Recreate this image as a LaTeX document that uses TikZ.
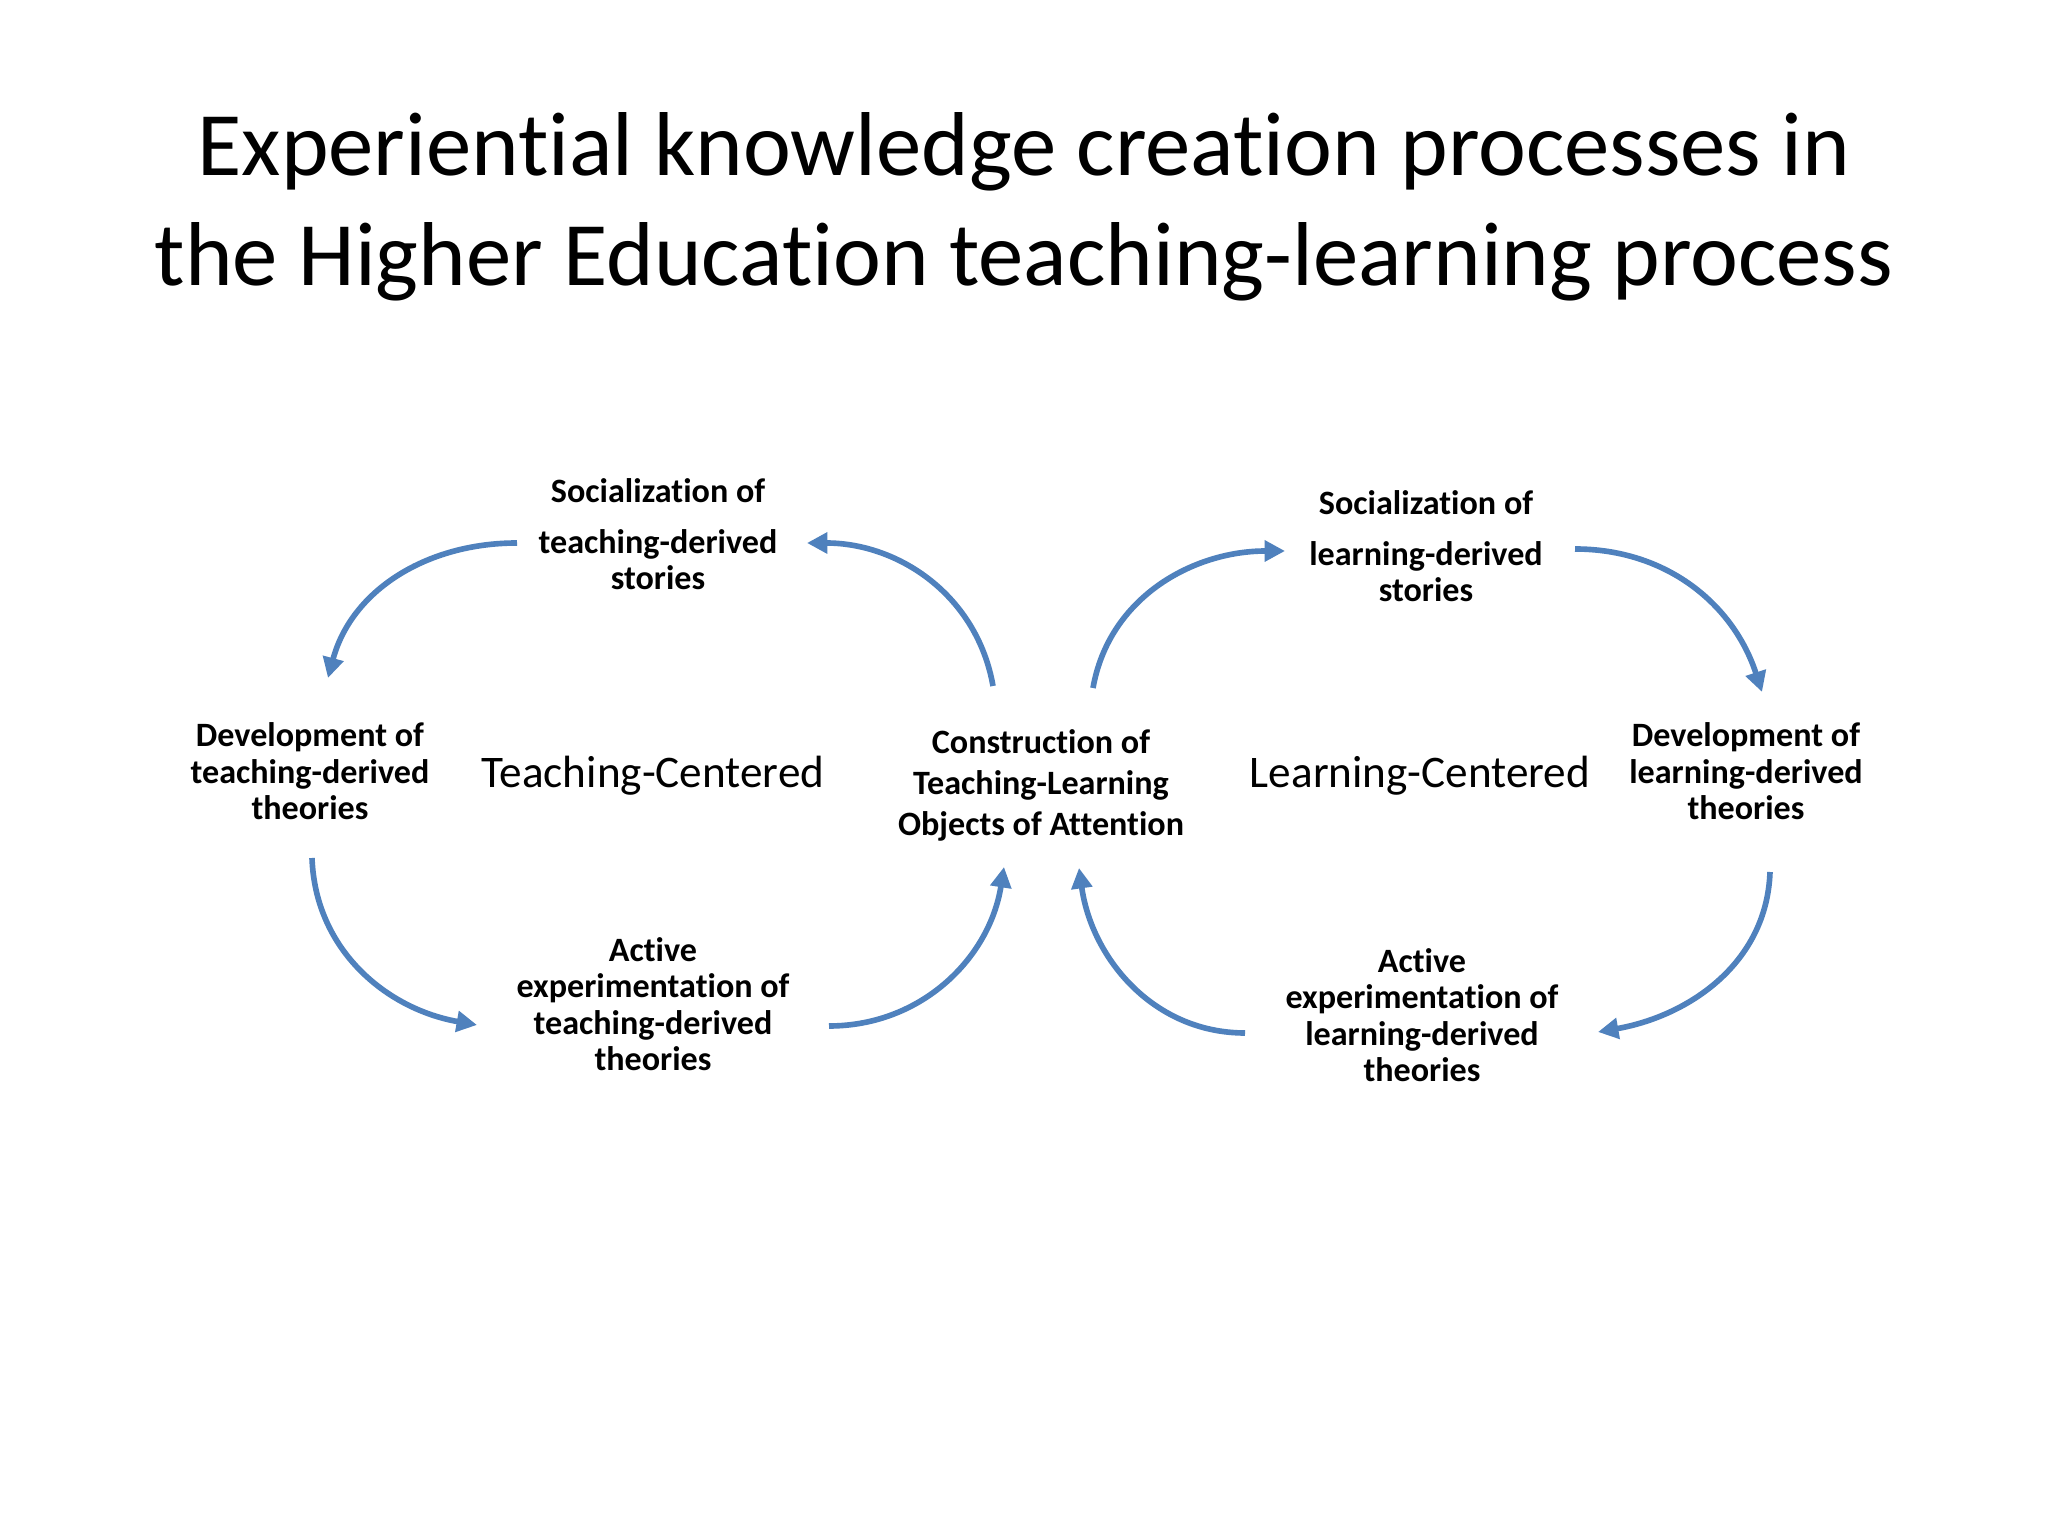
\documentclass[tikz,border=0pt]{standalone}
\usepackage{fontspec}
\setmainfont{Carlito}[Ligatures=NoCommon]
\usepackage{tikz}
\usetikzlibrary{arrows.meta}
\definecolor{cycleblue}{RGB}{79,129,189}

\begin{document}
\begin{tikzpicture}[x=0.01cm, y=0.01cm,
  lbl/.style={anchor=base, align=center, inner sep=0pt,
    font=\fontsize{9.7}{10.4}\selectfont\bfseries},
  big/.style={anchor=base, inner sep=0pt, font=\fontsize{12.85}{15}\selectfont},
  arr/.style={-{Triangle[length=5.8pt, width=5.8pt]}, cycleblue, line width=1.6pt}]
\fill[white] (0,0) rectangle (2048,1536);
\useasboundingbox (0,0) rectangle (2048,1536);
% title (base = last line)
\node[anchor=base, align=center, inner sep=0pt, font=\fontsize{25.8}{31.3}\selectfont]
  (title) at (1024,1250) {Experiential knowledge creation processes in\\the Higher Education teaching-learning process};
% teaching side
\node[lbl] (socT) at (658,946) {Socialization of\\[4.1pt]teaching-derived\\stories};
\node[lbl] (devT) at (310,716) {Development of\\teaching-derived\\theories};
\node[big] (ctrT) at (653,748) {Teaching-Centered};
\node[lbl] (actT) at (653,465) {Active\\experimentation of\\teaching-derived\\theories};
% middle
\node[lbl, font=\fontsize{9.7}{11.8}\selectfont\bfseries] (con) at (1041,700)
  {Construction of\\Teaching-Learning\\Objects of Attention};
% learning side
\node[lbl] (socL) at (1426,934) {Socialization of\\[4.1pt]learning-derived\\stories};
\node[lbl] (devL) at (1746,716) {Development of\\learning-derived\\theories};
\node[big] (ctrL) at (1420,748) {Learning-Centered};
\node[lbl] (actL) at (1422,454) {Active\\experimentation of\\learning-derived\\theories};
% arrow ends
\coordinate (a1s) at (517,993);  \coordinate (a1e) at (328,858);
\coordinate (a2s) at (312,678);  \coordinate (a2e) at (477,511);
\coordinate (a3s) at (829,510);  \coordinate (a3e) at (1004,669);
\coordinate (a4s) at (993,850);  \coordinate (a4e) at (807,993);
\coordinate (b1s) at (1093,848); \coordinate (b1e) at (1285,985);
\coordinate (b2s) at (1575,987); \coordinate (b2e) at (1762,844);
\coordinate (b3s) at (1770,664); \coordinate (b3e) at (1598,504);
\coordinate (b4s) at (1245,503); \coordinate (b4e) at (1079,668);
% teaching cycle
\draw[arr] (a1s) to[out=180, in=75] (a1e);
\draw[arr] (a2s) to[out=-88, in=170] (a2e);
\draw[arr] (a3s) to[out=0, in=-99] (a3e);
\draw[arr] (a4s) to[out=100, in=0] (a4e);
% learning cycle
\draw[arr] (b1s) to[out=80, in=180] (b1e);
\draw[arr] (b2s) to[out=0, in=108] (b2e);
\draw[arr] (b3s) to[out=-92, in=10] (b3e);
\draw[arr] (b4s) to[out=180, in=-82] (b4e);
\end{tikzpicture}
\end{document}
